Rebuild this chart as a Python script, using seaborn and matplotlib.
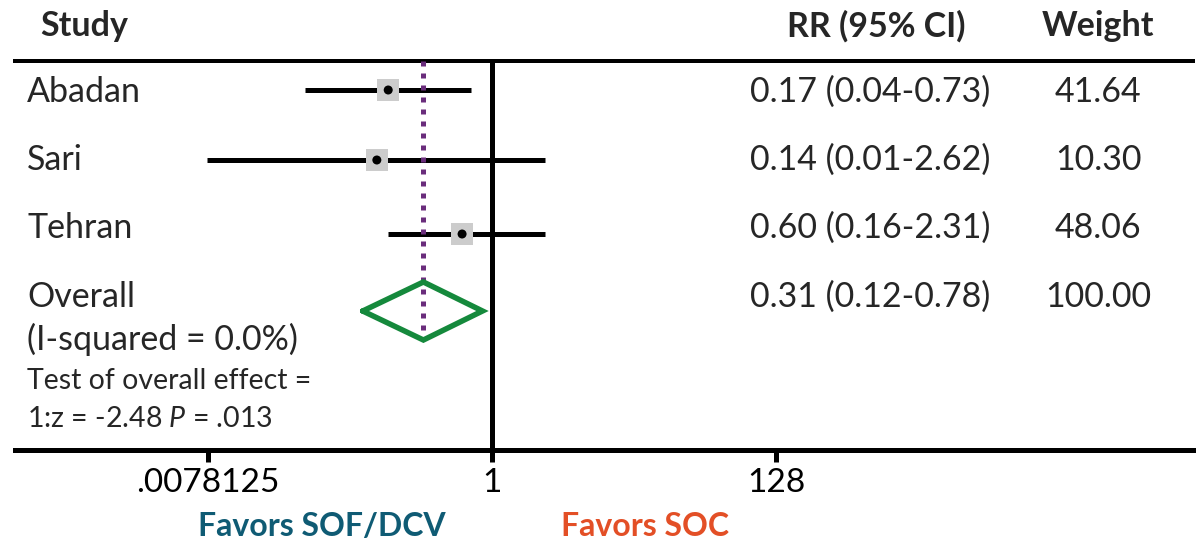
import numpy as np
import pandas as pd
import matplotlib
matplotlib.use("Agg")
import matplotlib.pyplot as plt
import seaborn as sns

# ---- data ----
studies = ["Abadan", "Sari", "Tehran"]
rr = [0.17, 0.14, 0.60]
ci_lo = [0.041, 0.0077, 0.17]
ci_hi = [0.70, 2.47, 2.47]
rr_labels = ["0.17 (0.04-0.73)", "0.14 (0.01-2.62)", "0.60 (0.16-2.31)"]
weights = ["41.64", "10.30", "48.06"]

overall_rr = 0.31
overall_lo = 0.11
overall_hi = 0.85
overall_label = "0.31 (0.12-0.78)"
overall_weight = "100.00"

tick_values = [2 ** -7, 1, 2 ** 7]
tick_labels = [".0078125", "1", "128"]

# ---- layout (pixel-like vertical units) ----
W, H = 1197, 546
row_y = [90, 160, 234]
row_text_y = [92, 160, 228]
overall_y = 311
overall_text_y = 297
ax_top, ax_bot = 61, 450
px_per_log2 = 40.6
x_one_px = 492
ax_left_px, ax_right_px = 15, 1193

sns.set_theme(style="white")
plt.rcParams["font.family"] = ["Lato", "DejaVu Sans"]
plt.rcParams["mathtext.fontset"] = "custom"
plt.rcParams["mathtext.rm"] = "Lato"
plt.rcParams["mathtext.it"] = "Lato:italic"

fig = plt.figure(figsize=(W / 100, H / 100), dpi=100)
ax = fig.add_axes([ax_left_px / W, 1 - ax_bot / H,
                   (ax_right_px - ax_left_px) / W, (ax_bot - ax_top) / H])
ax.set_xscale("log", base=2)
xl = 2 ** ((ax_left_px - x_one_px) / px_per_log2)
xr = 2 ** ((ax_right_px - x_one_px) / px_per_log2)
ax.set_xlim(xl, xr)
ax.set_ylim(ax_bot, ax_top)
ax.set_facecolor("white")

pt = 0.72  # points per pixel

# spines
for s in ["left", "right"]:
    ax.spines[s].set_visible(False)
ax.spines["top"].set_linewidth(4 * pt)
ax.spines["bottom"].set_linewidth(5 * pt)
ax.spines["top"].set_color("black")
ax.spines["bottom"].set_color("black")

ax.set_xticks(tick_values)
ax.set_xticklabels(tick_labels)
ax.xaxis.set_minor_locator(matplotlib.ticker.NullLocator())
ax.tick_params(axis="x", which="major", bottom=True, direction="out",
               length=12 * pt, width=5 * pt, color="black",
               labelsize=24, pad=4, labelcolor="black")
ax.set_yticks([])

# line of no effect
ax.axvline(1, color="black", lw=5 * pt, zorder=2)

# overall estimate dotted line
ax.plot([overall_rr, overall_rr], [ax_top, overall_y + 29], color="#6a2d7c",
        lw=5 * pt, ls=(0, (1, 1.4)), dash_capstyle="butt", zorder=4)

# CIs
ax.hlines(row_y, ci_lo, ci_hi, color="black", lw=5 * pt, zorder=3,
          capstyle="butt")

df = pd.DataFrame({"rr": rr, "y": row_y})
sns.scatterplot(data=df, x="rr", y="y", marker="s", s=(22 * pt) ** 2,
                color="#cccccc", edgecolor="none", linewidth=0, ax=ax,
                zorder=5, legend=False)
sns.scatterplot(data=df, x="rr", y="y", marker="o", s=(9 * pt) ** 2,
                color="black", edgecolor="none", linewidth=0, ax=ax,
                zorder=6, legend=False)

# diamond
dx = [overall_lo, overall_rr, overall_hi, overall_rr, overall_lo]
dy = [overall_y, overall_y - 29, overall_y, overall_y + 29, overall_y]
ax.plot(dx, dy, color="#15893c", lw=5.5 * pt, solid_joinstyle="miter", zorder=4)

ax.set_xlabel("")
ax.set_ylabel("")

# ---- texts (figure pixel coords) ----
def ftext(x, y, s, **kw):
    fig.text(x / W, 1 - y / H, s, **kw)

fs = 24.5
ftext(40, 26, "Study", fontsize=fs, fontweight="bold", ha="left", va="center")
ftext(876, 26, "RR (95% CI)", fontsize=fs, fontweight="bold", ha="center", va="center")
ftext(1098, 26, "Weight", fontsize=fs, fontweight="bold", ha="center", va="center")

for name, ty, lab, w in zip(studies, row_text_y, rr_labels, weights):
    ftext(27, ty, name, fontsize=fs, ha="left", va="center")
    ftext(870, ty, lab, fontsize=fs, ha="center", va="center")
    ftext(1098, ty, w, fontsize=fs, ha="center", va="center")

ftext(27, overall_text_y, "Overall", fontsize=fs, ha="left", va="center")
ftext(870, overall_text_y, overall_label, fontsize=fs, ha="center", va="center")
ftext(1098, overall_text_y, overall_weight, fontsize=fs, ha="center", va="center")
ftext(27, 339, "(I-squared = 0.0%)", fontsize=fs, ha="left", va="center")
ftext(27, 381, "Test of overall effect =", fontsize=20.5, ha="left", va="center")
ftext(27, 419, "1:z = -2.48 $\\mathit{P}$ = .013", fontsize=20.5, ha="left", va="center")

ftext(322, 527, "Favors SOF/DCV", fontsize=23, fontweight="bold",
      color="#0f5b74", ha="center", va="center")
ftext(645, 527, "Favors SOC", fontsize=23, fontweight="bold",
      color="#e34f26", ha="center", va="center")

fig.savefig("out.png", dpi=100, facecolor="white")
